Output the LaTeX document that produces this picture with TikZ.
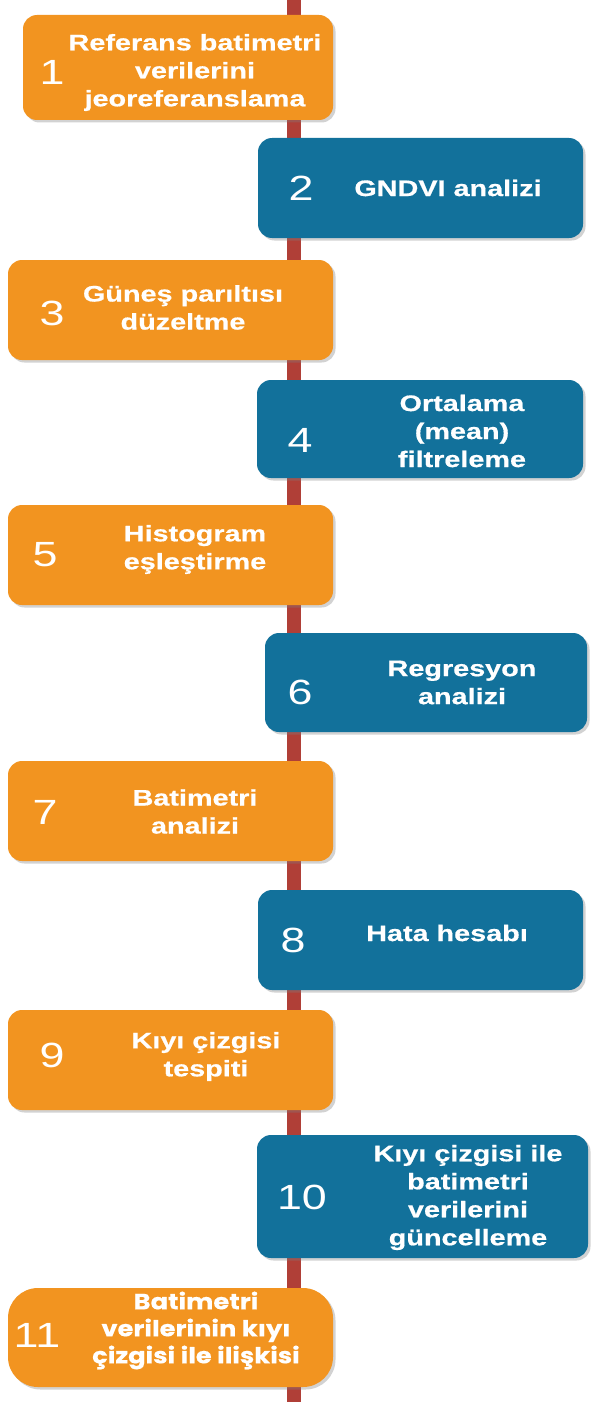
\documentclass[tikz,border=0pt]{standalone}
\usepackage{fontspec}
\newfontfamily\armfont[FakeStretch=1.28, BoldFeatures={FakeBold=0.6}]{Liberation Sans}
\newfontfamily\gothfont[FakeStretch=1.17, BoldFeatures={FakeBold=0.4}]{Poppins}
\usetikzlibrary{shadows}
\definecolor{orng}{HTML}{F29420}
\definecolor{blu}{HTML}{12719B}
\definecolor{spinec}{HTML}{B03F37}
\tikzset{
  spine/.style={draw=spinec, line width=14pt},
  boxbase/.style={rectangle, rounded corners=14pt, inner sep=0pt,
    drop shadow={shadow xshift=2.5pt, shadow yshift=-2.5pt, opacity=0.35, fill=black!50}},
  obox/.style={boxbase, fill=orng},
  bbox/.style={boxbase, fill=blu},
  num/.style={text=white, inner sep=0pt, font=\armfont\fontsize{35}{40}\selectfont},
  lbl/.style={text=white, inner sep=0pt, align=center, font=\armfont\bfseries\fontsize{22.5}{28}\selectfont},
  glbl/.style={text=white, inner sep=0pt, align=center, font=\gothfont\bfseries\fontsize{22}{27}\selectfont},
}
\begin{document}
\begin{tikzpicture}[x=1pt,y=-1pt]
\useasboundingbox (0,0) rectangle (590,1402);
\fill[white] (0,0) rectangle (590,1402);
\coordinate (top) at (294,0);
\coordinate (bot) at (294,1402);
\draw[spine] (top) -- (bot);
% boxes
\node[obox, minimum width=310pt, minimum height=105pt] (b1) at (178,67.5) {};
\node[bbox, minimum width=325pt, minimum height=100pt] (b2) at (420.5,188) {};
\node[obox, minimum width=325pt, minimum height=100pt] (b3) at (170.5,310) {};
\node[bbox, minimum width=326pt, minimum height=98pt] (b4) at (420,429) {};
\node[obox, minimum width=325pt, minimum height=100pt] (b5) at (170.5,555) {};
\node[bbox, minimum width=322pt, minimum height=99pt] (b6) at (426,682.5) {};
\node[obox, minimum width=325pt, minimum height=100pt] (b7) at (170.5,811) {};
\node[bbox, minimum width=325pt, minimum height=100pt] (b8) at (420.5,940) {};
\node[obox, minimum width=325pt, minimum height=100pt] (b9) at (170.5,1060) {};
\node[bbox, minimum width=331pt, minimum height=123pt] (b10) at (422.5,1196.5) {};
\node[obox, rounded corners=30pt, minimum width=325pt, minimum height=99pt] (b11) at (170.5,1337.5) {};
% numbers
\node[num] (n1) at (52,72) {1};
\node[num] (n2) at (301,188) {2};
\node[num] (n3) at (52,313) {3};
\node[num] (n4) at (300,440) {4};
\node[num] (n5) at (45,555) {5};
\node[num] (n6) at (300,692) {6};
\node[num] (n7) at (45,812) {7};
\node[num] (n8) at (293,940) {8};
\node[num] (n9) at (52,1055) {9};
\node[num] (n10) at (302,1197) {10};
\node[num] (n11) at (37,1335) {11};
% labels
\node[lbl] (t1) at (195,72.5) {Referans batimetri\\verilerini\\jeoreferanslama};
\node[lbl] (t2) at (448,188) {GNDVI analizi};
\node[lbl] (t3) at (183,307.5) {Güneş parıltısı\\düzeltme};
\node[lbl] (t4) at (462,431) {Ortalama\\(mean)\\filtreleme};
\node[lbl] (t5) at (195,549.5) {Histogram\\eşleştirme};
\node[lbl] (t6) at (462,682.5) {Regresyon\\analizi};
\node[lbl] (t7) at (195,811.5) {Batimetri\\analizi};
\node[lbl] (t8) at (447,933) {Hata hesabı};
\node[lbl] (t9) at (206,1056.5) {Kıyı çizgisi\\tespiti};
\node[lbl] (t10) at (468,1197.5) {Kıyı çizgisi ile\\batimetri\\verilerini\\güncelleme};
\node[glbl] (t11) at (196,1330.5) {Batimetri\\verilerinin kıyı\\çizgisi ile ilişkisi};
\end{tikzpicture}
\end{document}
